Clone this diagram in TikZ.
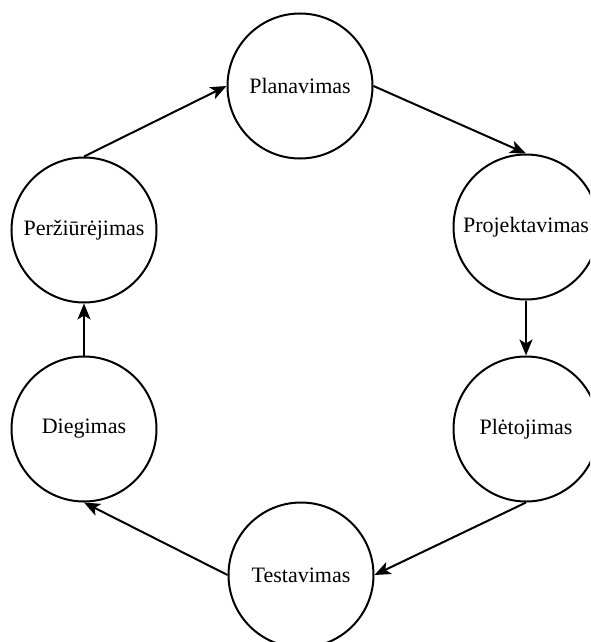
\documentclass[tikz,border=0pt]{standalone}
\usepackage{fontspec}
\setmainfont{Liberation Serif}
\usetikzlibrary{arrows.meta}
\begin{document}
\begin{tikzpicture}[x=1pt,y=-1pt,
  phase/.style={circle, draw, line width=2pt, minimum size=145pt, inner sep=0pt,
    font=\fontsize{22}{24}\selectfont},
  flow/.style={line width=2pt, -{Stealth[length=16pt,width=13pt,inset=4pt]}}]
\useasboundingbox (0,0) rectangle (590,642);
\clip (0,0) rectangle (590,642);
\fill[white] (0,0) rectangle (590,642);
% the six phases of the cycle
\node[phase] (plan) at (300,86)  {Planavimas};
\node[phase] (proj) at (526,227) {Projektavimas};
\node[phase] (plet) at (526,429) {Plėtojimas};
\node[phase] (test) at (301,575) {Testavimas};
\node[phase] (dieg) at (84,429)  {Diegimas};
\node[phase] (perz) at (84,230)  {Peržiūrėjimas};
% transitions
\draw[flow] (plan.east)  -- (proj.north);
\draw[flow] (proj.south) -- (plet.north);
\draw[flow] (plet.south) -- (test.east);
\draw[flow] (test.west)  -- (dieg.south);
\draw[flow] (dieg.north) -- (perz.south);
\draw[flow] (perz.north) -- (plan.west);
\end{tikzpicture}
\end{document}
